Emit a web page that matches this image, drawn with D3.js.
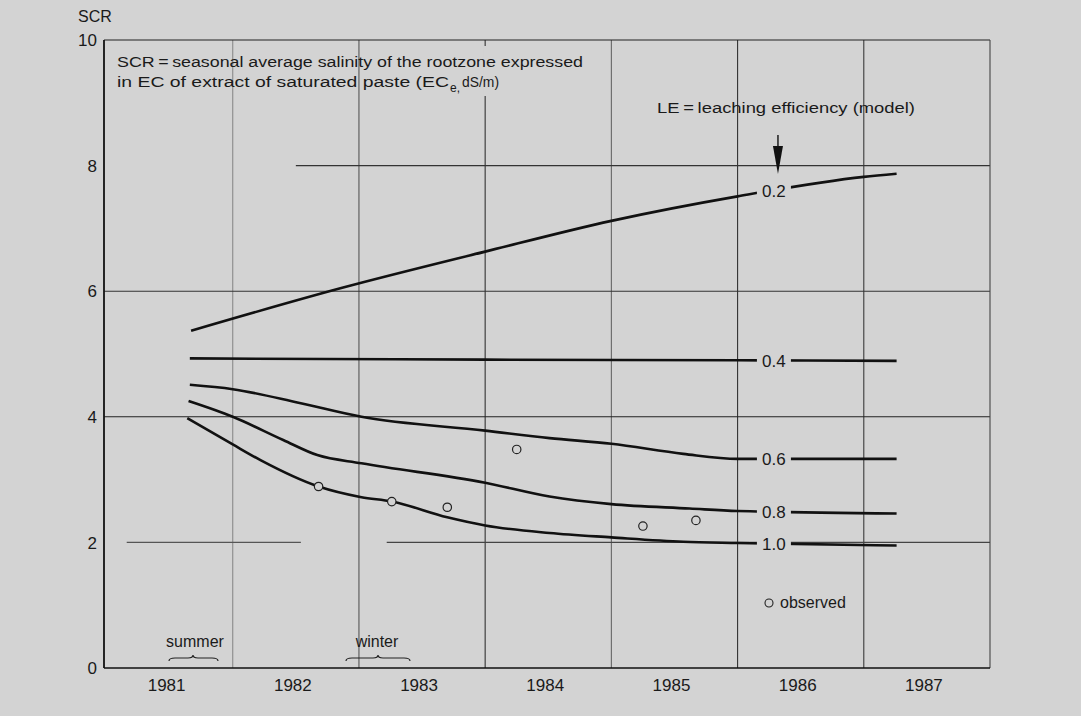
<!DOCTYPE html>
<html>
<head>
<meta charset="utf-8">
<script src="https://cdn.jsdelivr.net/npm/d3@7"></script>
<style>
  html, body { margin: 0; padding: 0; background: #d3d3d3; }
  svg { display: block; }
  text { font-family: "Liberation Sans", Arial, sans-serif; fill: #1a1a1a; }
</style>
</head>
<body>
<svg id="chart" width="1081" height="716"></svg>
<script>
// ---------- data ----------
const yearLabels = [1981, 1982, 1983, 1984, 1985, 1986, 1987];
const yearBoundaries = [1981.5, 1982.5, 1983.5, 1984.5, 1985.5, 1986.5];
const yTicks = [0, 2, 4, 6, 8, 10];

const leLabels = ["0.2", "0.4", "0.6", "0.8", "1.0"];
const le02 = [[1981.17, 5.37], [1982.36, 6.05], [1983.50, 6.63], [1984.50, 7.12], [1985.50, 7.51], [1986.50, 7.82], [1986.76, 7.87]];
const le04 = [[1981.16, 4.93], [1983.50, 4.91], [1985.50, 4.90], [1986.76, 4.89]];
const le06 = [[1981.16, 4.51], [1981.50, 4.44], [1982.03, 4.22], [1982.52, 4.00], [1983.50, 3.78], [1984.01, 3.66], [1984.50, 3.57], [1985.07, 3.41], [1985.50, 3.33], [1986.76, 3.33]];
const le08 = [[1981.15, 4.25], [1981.50, 4.00], [1981.90, 3.63], [1982.17, 3.39], [1982.52, 3.26], [1983.50, 2.95], [1984.01, 2.73], [1984.50, 2.61], [1985.12, 2.54], [1985.50, 2.50], [1986.76, 2.46]];
const le10 = [[1981.14, 3.98], [1981.50, 3.56], [1981.72, 3.31], [1982.18, 2.89], [1982.52, 2.72], [1982.76, 2.65], [1983.20, 2.40], [1983.50, 2.27], [1984.01, 2.15], [1984.50, 2.08], [1985.07, 2.01], [1985.50, 1.99], [1986.76, 1.95]];
const observed = [[1982.18, 2.89], [1982.76, 2.65], [1983.20, 2.56], [1983.75, 3.48], [1984.75, 2.26], [1985.17, 2.35]];
const labelTime = 1985.78;

// ---------- setup ----------
const svg = d3.select("#chart");
const bg = "#d3d3d3";
const x = d3.scaleLinear().domain([1980.48, 1987.5]).range([104, 990]);
const y = d3.scaleLinear().domain([0, 10]).range([668, 40]);

// gridlines (vertical)
const vShade = ["#8a8a8a", "#555", "#333", "#666", "#333", "#3a3a3a"];
svg.append("g").selectAll("line").data(yearBoundaries).join("line")
  .attr("x1", d => x(d)).attr("x2", d => x(d))
  .attr("y1", y(10)).attr("y2", y(0))
  .attr("stroke", (d, i) => vShade[i]).attr("stroke-width", 1.1);

// gridlines (horizontal)
const hg = svg.append("g");
hg.append("line").attr("x1", x(1980.48)).attr("x2", x(1987.5)).attr("y1", y(6)).attr("y2", y(6)).attr("stroke", "#333").attr("stroke-width", 1.1);
hg.append("line").attr("x1", x(1980.48)).attr("x2", x(1987.5)).attr("y1", y(4)).attr("y2", y(4)).attr("stroke", "#222").attr("stroke-width", 1.1);
hg.append("line").attr("x1", x(1982.0)).attr("x2", x(1987.5)).attr("y1", y(8)).attr("y2", y(8)).attr("stroke", "#333").attr("stroke-width", 1.1);
hg.append("line").attr("x1", x(1980.66)).attr("x2", x(1982.04)).attr("y1", y(2)).attr("y2", y(2)).attr("stroke", "#555").attr("stroke-width", 1.1);
hg.append("line").attr("x1", x(1982.72)).attr("x2", x(1987.5)).attr("y1", y(2)).attr("y2", y(2)).attr("stroke", "#444").attr("stroke-width", 1.1);

// gap in the 1984 gridline behind the annotation text
svg.append("rect").attr("x", x(1983.5) - 2).attr("y", 46).attr("width", 4).attr("height", 50).attr("fill", bg);

// frame
svg.append("line").attr("x1", x(1980.48)).attr("x2", x(1987.5)).attr("y1", y(10)).attr("y2", y(10)).attr("stroke", "#222").attr("stroke-width", 1.2);
svg.append("line").attr("x1", x(1987.5)).attr("x2", x(1987.5)).attr("y1", y(10)).attr("y2", y(0)).attr("stroke", "#444").attr("stroke-width", 1.1);
svg.append("line").attr("x1", x(1980.48)).attr("x2", x(1980.48)).attr("y1", y(10)).attr("y2", y(0)).attr("stroke", "#111").attr("stroke-width", 1.8);
svg.append("line").attr("x1", x(1980.48)).attr("x2", x(1987.5)).attr("y1", y(0)).attr("y2", y(0)).attr("stroke", "#111").attr("stroke-width", 1.6);

// y tick labels
svg.append("g").selectAll("text").data(yTicks).join("text")
  .attr("x", x(1980.48) - 7).attr("y", d => y(d)).attr("dy", "0.36em")
  .attr("text-anchor", "end").style("font-size", "17px").text(d => d);
svg.append("text").attr("x", 78).attr("y", 22).style("font-size", "16px").text("SCR");

// x tick labels
svg.append("g").selectAll("text").data(yearLabels).join("text")
  .attr("x", d => x(d) - 3).attr("y", 691)
  .attr("text-anchor", "middle").style("font-size", "17px").text(d => d);

// curves
const line = d3.line().x(d => x(d[0])).y(d => y(d[1])).curve(d3.curveMonotoneX);
const series = [le02, le04, le06, le08, le10];
svg.append("g").selectAll("path").data(series).join("path")
  .attr("d", line).attr("fill", "none").attr("stroke", "#111")
  .attr("stroke-width", 2.6).attr("stroke-linecap", "butt");

// labels on curves
function valueAt(s, t) {
  for (let i = 0; i < s.length - 1; i++) {
    if (t >= s[i][0] && t <= s[i + 1][0]) {
      const f = (t - s[i][0]) / (s[i + 1][0] - s[i][0]);
      return s[i][1] + f * (s[i + 1][1] - s[i][1]);
    }
  }
  return s[s.length - 1][1];
}
const lg = svg.append("g");
series.forEach((s, i) => {
  const v = valueAt(s, labelTime);
  lg.append("rect").attr("x", x(labelTime) - 16).attr("y", y(v) - 9)
    .attr("width", 34).attr("height", 18).attr("fill", bg);
  lg.append("text").attr("x", x(labelTime) + 1).attr("y", y(v)).attr("dy", "0.36em")
    .attr("text-anchor", "middle").style("font-size", "17px").text(leLabels[i]);
});

// arrow pointing to 0.2 curve
const ax = x(1985.82);
svg.append("line").attr("x1", ax).attr("x2", ax).attr("y1", 135).attr("y2", 150).attr("stroke", "#111").attr("stroke-width", 1.4);
svg.append("path").attr("d", `M${ax - 5},146 L${ax + 5},146 L${ax},174 Z`).attr("fill", "#111");

// observed points
svg.append("g").selectAll("circle").data(observed).join("circle")
  .attr("cx", d => x(d[0])).attr("cy", d => y(d[1])).attr("r", 4.2)
  .attr("fill", bg).attr("stroke", "#222").attr("stroke-width", 1.2);

// annotations
svg.append("text").attr("x", 117).attr("y", 67).style("font-size", "15.5px")
  .attr("textLength", 466).attr("lengthAdjust", "spacingAndGlyphs")
  .text("SCR\u2009=\u2009seasonal average salinity of the rootzone expressed");
svg.append("text").attr("x", 117).attr("y", 87).style("font-size", "15.5px")
  .attr("textLength", 332).attr("lengthAdjust", "spacingAndGlyphs")
  .text("in EC of extract of saturated paste (EC");
svg.append("text").attr("x", 450).attr("y", 92).style("font-size", "12px").text("e,");
svg.append("text").attr("x", 462).attr("y", 87).style("font-size", "15.5px")
  .attr("textLength", 37).attr("lengthAdjust", "spacingAndGlyphs").text("dS/m)");

svg.append("text").attr("x", 657).attr("y", 113).style("font-size", "15.5px")
  .attr("textLength", 258).attr("lengthAdjust", "spacingAndGlyphs")
  .text("LE\u2009=\u2009leaching efficiency (model)");

// observed legend
svg.append("circle").attr("cx", 769).attr("cy", 603).attr("r", 4).attr("fill", bg).attr("stroke", "#222").attr("stroke-width", 1.1);
svg.append("text").attr("x", 780).attr("y", 608).style("font-size", "16px").text("observed");

// season braces
function brace(x1, x2, xm, yb) {
  return `M${x1},${yb + 3} Q${x1},${yb} ${x1 + 6},${yb} L${xm - 5},${yb} Q${xm},${yb} ${xm},${yb - 3} Q${xm},${yb} ${xm + 5},${yb} L${x2 - 6},${yb} Q${x2},${yb} ${x2},${yb + 3}`;
}
svg.append("path").attr("d", brace(169, 218, 193, 658)).attr("fill", "none").attr("stroke", "#222").attr("stroke-width", 1.2);
svg.append("path").attr("d", brace(346, 410, 378, 658)).attr("fill", "none").attr("stroke", "#222").attr("stroke-width", 1.2);
svg.append("text").attr("x", 195).attr("y", 647).attr("text-anchor", "middle").style("font-size", "16px").text("summer");
svg.append("text").attr("x", 377).attr("y", 647).attr("text-anchor", "middle").style("font-size", "16px").text("winter");
</script>
</body>
</html>
